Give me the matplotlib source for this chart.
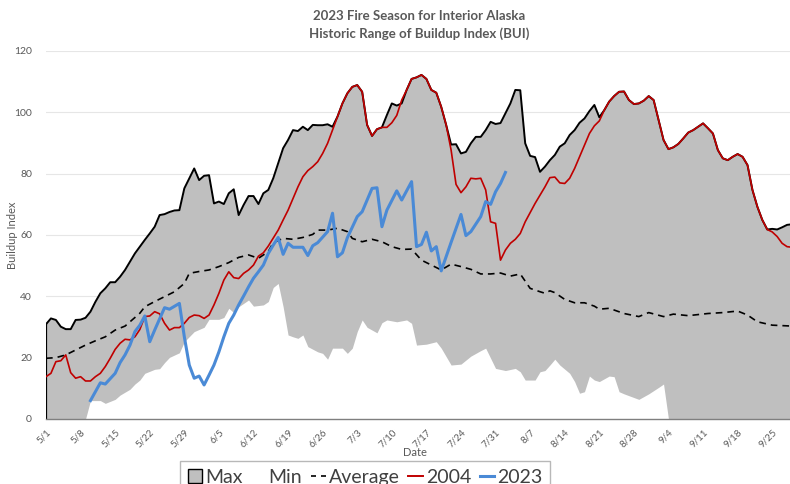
import matplotlib
matplotlib.use("Agg")
import matplotlib.pyplot as plt
from matplotlib.patches import Patch
from matplotlib.lines import Line2D
import datetime as dt

plt.rcParams['font.family'] = ['Lato', 'DejaVu Sans']

# ---------------- data (days counted from May 1, 2023) ----------------
season_start = dt.datetime(2023, 5, 1)

max_day = [0, 1, 2, 3, 4, 5, 6, 7, 8, 9, 10, 11, 12, 13, 14, 15, 16, 17, 18, 19,
           20, 21, 22, 23, 24, 25, 26, 27, 28, 30, 31, 32, 33, 34, 35, 36, 37, 38, 39, 40,
           41, 42, 43, 44, 45, 46, 47, 48, 49, 50, 51, 52, 53, 54, 55, 56, 57, 58, 59, 60,
           61, 62, 63, 64, 65, 66, 67, 68, 69, 70, 71, 72, 73, 74, 75, 76, 77, 78, 79, 80,
           81, 82, 83, 84, 85, 86, 87, 88, 89, 90, 91, 92, 93, 94, 95, 96, 97, 98, 99, 100,
           101, 102, 103, 104, 105, 106, 107, 108, 109, 110, 111, 112, 113, 114, 115, 116, 117, 118, 119, 120,
           121, 122, 123, 124, 125, 126, 127, 128, 129, 130, 131, 132, 133, 134, 135, 136, 137, 138, 139, 140,
           141, 142, 143, 144, 145, 146, 147, 148, 149, 150, 151]
max_vals = [30.9, 32.8, 32.3, 30.1, 29.3, 29.3, 32.3, 32.4, 33.0, 35.0, 38.2, 41.0, 42.6, 44.6, 44.6, 46.4, 48.6, 51.3, 54.0, 56.2,
            58.4, 60.5, 62.7, 66.5, 66.8, 67.5, 68.0, 68.1, 75.2, 81.7, 77.9, 79.3, 79.5, 70.3, 70.9, 70.1, 73.6, 74.9, 66.5, 69.8,
            72.7, 72.7, 70.1, 73.6, 74.7, 78.5, 83.4, 88.3, 91.0, 94.2, 93.9, 95.3, 94.2, 95.9, 95.8, 95.8, 96.1, 95.3, 98.6, 102.9,
            106.2, 108.3, 108.9, 106.7, 95.9, 92.3, 94.5, 95.1, 99.1, 102.9, 102.2, 102.9, 107.3, 110.9, 111.4, 112.2, 110.9, 107.3, 106.4, 101.8,
            95.9, 89.5, 89.6, 86.6, 87.1, 89.9, 92.0, 92.0, 94.2, 96.9, 96.2, 96.5, 99.7, 102.9, 107.3, 107.2, 89.9, 85.8, 85.4, 80.6,
            82.3, 84.4, 86.1, 88.8, 89.9, 92.6, 94.2, 96.6, 98.0, 100.4, 102.4, 98.4, 100.7, 103.5, 105.3, 106.7, 106.8, 104.0, 102.7, 102.9,
            103.8, 105.3, 104.0, 97.5, 91.0, 88.0, 88.6, 89.7, 91.5, 93.4, 94.2, 95.3, 96.4, 94.8, 93.1, 87.7, 85.0, 84.4, 85.5, 86.4,
            85.5, 82.8, 74.7, 69.2, 64.9, 61.8, 62.0, 61.8, 62.5, 63.3, 63.5]

min_day = [0, 8, 9, 11, 12, 14, 15, 17, 18, 19, 20, 22, 23, 24, 25, 27, 28, 30, 32, 33,
           35, 36, 37, 38, 39, 41, 42, 44, 45, 46, 47, 48, 49, 50, 51, 52, 53, 55, 56, 57,
           58, 60, 61, 62, 63, 64, 65, 67, 68, 69, 71, 73, 74, 75, 77, 79, 80, 82, 84, 86,
           88, 89, 91, 93, 95, 96, 97, 99, 100, 101, 102, 103, 104, 106, 107, 108, 109, 110, 111, 112,
           114, 115, 116, 117, 120, 122, 124, 125, 126, 151]
min_vals = [0.0, 0.0, 6.0, 6.0, 5.1, 6.4, 7.8, 9.7, 11.4, 12.7, 14.9, 16.2, 16.4, 18.4, 20.1, 21.6, 25.2, 28.5, 29.9, 32.5,
            32.5, 33.1, 36.1, 34.7, 36.6, 38.8, 36.8, 37.2, 38.3, 42.9, 44.2, 36.6, 27.4, 26.8, 26.3, 27.4, 23.6, 21.9, 21.4, 19.5,
            23.1, 23.1, 21.4, 23.1, 28.5, 32.3, 29.9, 28.1, 31.4, 32.3, 31.7, 32.3, 31.2, 24.1, 24.4, 25.2, 23.1, 17.6, 17.9, 20.5,
            22.3, 23.1, 16.5, 15.8, 16.5, 15.4, 12.7, 12.7, 15.4, 15.8, 17.6, 19.5, 17.6, 14.9, 12.2, 8.4, 8.9, 14.0, 12.7, 12.2,
            14.0, 13.8, 8.9, 8.2, 6.4, 8.2, 10.3, 11.4, 0.0, 0.0]

avg_day = [0, 2, 4, 6, 8, 10, 12, 14, 16, 17, 19, 20, 22, 24, 26, 28, 29, 31, 33, 35,
           37, 39, 41, 43, 45, 46, 48, 50, 52, 54, 55, 57, 59, 61, 62, 64, 66, 68, 70, 72,
           74, 76, 78, 80, 82, 84, 86, 88, 90, 92, 94, 96, 98, 100, 101, 102, 103, 105, 107, 109,
           111, 112, 114, 117, 120, 122, 125, 127, 130, 134, 137, 140, 142, 144, 147, 151]
avg_vals = [19.8, 20.0, 20.9, 22.5, 24.1, 25.5, 26.8, 29.0, 30.3, 31.7, 34.5, 36.6, 38.3, 39.9, 41.5, 44.2, 47.5, 48.1, 48.6, 49.7,
            51.0, 52.7, 53.5, 52.4, 54.6, 57.5, 58.9, 58.6, 59.2, 60.2, 61.6, 61.6, 62.2, 61.1, 58.9, 57.8, 58.6, 57.8, 56.2, 55.3,
            55.4, 51.8, 50.2, 48.6, 50.5, 49.7, 48.8, 47.3, 47.3, 47.6, 46.6, 47.3, 42.6, 41.5, 41.0, 41.8, 41.2, 39.0, 37.9, 37.9,
            36.8, 35.8, 36.1, 34.4, 33.4, 34.7, 33.4, 34.2, 33.7, 34.4, 34.7, 35.2, 33.9, 31.7, 30.6, 30.3]

y2004_day = [0, 1, 2, 3, 4, 5, 6, 7, 8, 9, 10, 11, 12, 13, 14, 15, 16, 17, 18, 19,
             20, 21, 22, 23, 24, 25, 26, 27, 28, 29, 30, 31, 32, 33, 34, 35, 36, 37, 38, 39,
             40, 41, 42, 43, 44, 45, 46, 47, 48, 49, 50, 51, 52, 53, 54, 55, 56, 57, 58, 59,
             60, 61, 62, 63, 64, 65, 66, 67, 68, 69, 70, 71, 72, 73, 74, 75, 76, 77, 78, 79,
             80, 81, 82, 83, 84, 85, 86, 87, 88, 89, 90, 91, 92, 93, 94, 95, 96, 97, 99, 100,
             101, 102, 103, 104, 105, 106, 107, 108, 109, 110, 111, 112, 113, 114, 115, 116, 117, 118, 119, 120,
             121, 122, 123, 124, 125, 126, 127, 128, 129, 130, 131, 132, 133, 134, 135, 136, 137, 138, 139, 140,
             141, 142, 143, 144, 145, 146, 147, 148, 149, 150, 151]
y2004_vals = [13.8, 14.9, 18.7, 19.0, 20.9, 15.1, 13.3, 13.8, 12.4, 12.4, 13.8, 14.9, 17.1, 19.8, 22.7, 24.7, 26.0, 25.8, 26.8, 29.2,
              33.4, 33.6, 35.0, 34.3, 31.2, 29.0, 29.8, 29.8, 31.2, 33.1, 33.9, 33.7, 32.8, 33.9, 37.2, 41.0, 45.3, 48.0, 46.1, 45.8,
              47.5, 48.6, 50.2, 53.1, 54.2, 56.4, 59.0, 61.6, 64.9, 68.1, 71.9, 75.7, 79.0, 81.0, 82.3, 83.9, 86.6, 89.9, 94.2, 98.6,
              102.9, 106.2, 108.3, 108.9, 106.7, 95.9, 92.3, 94.5, 95.1, 95.1, 96.6, 99.0, 104.0, 107.3, 110.9, 111.4, 112.2, 110.9, 107.3, 106.4,
              101.8, 95.9, 87.7, 76.5, 73.8, 75.7, 78.5, 78.3, 78.5, 74.7, 64.3, 63.8, 51.8, 55.1, 57.3, 58.6, 60.5, 64.3, 70.3, 73.0,
              75.7, 78.7, 78.9, 77.0, 76.8, 78.5, 81.7, 85.5, 89.3, 93.1, 95.6, 97.2, 100.7, 103.5, 105.3, 106.7, 106.8, 104.0, 102.7, 102.9,
              103.8, 105.3, 104.0, 97.5, 91.0, 88.0, 88.6, 89.7, 91.5, 93.4, 94.2, 95.3, 96.4, 94.8, 93.1, 87.7, 85.0, 84.4, 85.5, 86.4,
              85.5, 82.8, 74.7, 69.2, 64.9, 61.8, 61.0, 59.5, 57.3, 56.2, 56.0]

y2023_day = [9, 11, 12, 14, 15, 16, 17, 18, 19, 20, 21, 22, 24, 25, 27, 28, 29, 30, 31, 32,
             33, 34, 35, 36, 37, 38, 39, 40, 41, 42, 43, 44, 45, 46, 47, 48, 49, 50, 52, 53,
             54, 55, 57, 58, 59, 60, 61, 63, 64, 66, 67, 68, 69, 71, 72, 74, 75, 76, 77, 78,
             79, 80, 82, 84, 85, 86, 88, 89, 90, 91, 92, 93]
y2023_vals = [6.0, 11.8, 11.4, 14.9, 18.4, 20.9, 24.1, 28.5, 30.6, 33.6, 25.2, 29.0, 36.3, 35.8, 37.7, 26.8, 17.6, 13.3, 14.0, 11.1,
              14.3, 17.6, 21.9, 26.8, 31.2, 33.9, 37.2, 40.1, 43.1, 45.9, 48.0, 50.2, 54.0, 56.7, 59.2, 53.7, 57.3, 56.0, 56.0, 53.3,
              56.5, 57.5, 61.1, 67.1, 52.9, 54.2, 59.1, 66.0, 67.6, 75.2, 75.4, 62.7, 68.1, 74.4, 71.4, 77.4, 56.2, 56.9, 60.9, 54.8,
              56.2, 48.3, 57.6, 66.7, 59.8, 61.1, 66.0, 70.9, 70.0, 74.1, 76.8, 80.4]

tick_days = list(range(0, 148, 7))
y_ticks = [0, 20, 40, 60, 80, 100, 120]

title = "2023 Fire Season for Interior Alaska\nHistoric Range of Buildup Index (BUI)"
series_names = ["Max", "Min", "Average", "2004", "2023"]


def to_dates(days):
    return [season_start + dt.timedelta(days=d) for d in days]


# ---------------- figure ----------------
W, H = 790, 484
fig = plt.figure(figsize=(W / 100, H / 100), dpi=100)
ax = fig.add_axes([46 / W, 1 - 419 / H, (790 - 46) / W, (419 - 51) / H])

grey = '#bfbfbf'
text_grey = '#595959'

xm = to_dates(max_day)
xn = to_dates(min_day)

ax.fill_between(xm, max_vals, 0, color=grey, lw=0, zorder=1)
ax.fill_between(xn, min_vals, 0, color='white', lw=0, zorder=2)
ax.plot(xm, max_vals, color='black', lw=1.4, zorder=3)
ax.plot([xm[0], xm[0]], [0, max_vals[0]], color='black', lw=1.6, zorder=3)
ax.plot(to_dates(avg_day), avg_vals, color='black', lw=1.2, dashes=(4, 3), zorder=4)
ax.plot(to_dates(y2004_day), y2004_vals, color='#c00000', lw=1.2, zorder=5)
ax.plot(to_dates(y2023_day), y2023_vals, color='#4a8ad6', lw=2.2, zorder=6)

ax.set_xlim(season_start, season_start + dt.timedelta(days=150.6))
ax.set_ylim(0, 120)
ax.set_yticks(y_ticks)
ax.grid(axis='y', color='#e6e6e6', lw=0.8, zorder=0)
ax.set_axisbelow(True)

tick_dates = to_dates(tick_days)
ax.set_xticks(tick_dates)
ax.set_xticklabels([f"{d.month}/{d.day}" for d in tick_dates], rotation=45,
                   ha='right', va='top', rotation_mode='anchor',
                   fontsize=7, color=text_grey)
ax.tick_params(axis='x', length=0, pad=6)
ax.tick_params(axis='y', length=0, pad=10, labelsize=7.5, labelcolor=text_grey)

for s in ['top', 'right', 'left']:
    ax.spines[s].set_visible(False)
ax.spines['bottom'].set_color('#7f7f7f')
ax.spines['bottom'].set_linewidth(1.0)
ax.spines['bottom'].set_zorder(7)

fig.text(12 / W, 1 - 235 / H, "Buildup Index", fontsize=8, color=text_grey,
         ha='center', va='center', rotation=90)
fig.text(415 / W, 1 - 452 / H, "Date", fontsize=8, color=text_grey,
         ha='center', va='center')
fig.text(419 / W, 1 - 25 / H, title, fontsize=9.5, fontweight='bold',
         color=text_grey, ha='center', va='center', linespacing=1.5)

handles = [Patch(facecolor=grey, edgecolor='black', lw=1.0),
           Patch(facecolor='white', edgecolor='none'),
           Line2D([], [], color='black', lw=1.2, dashes=(3, 3)),
           Line2D([], [], color='#c00000', lw=1.4),
           Line2D([], [], color='#4a8ad6', lw=2.2)]
leg = fig.legend(handles, series_names, loc='upper center', ncol=5,
                 bbox_to_anchor=(365 / W, 1 - 461 / H), borderaxespad=0,
                 fontsize=14, frameon=True, fancybox=False, edgecolor='#a6a6a6',
                 handlelength=0.75, handleheight=0.68, handletextpad=0.15,
                 columnspacing=0.45, borderpad=0.4, labelcolor='#404040')
leg.get_frame().set_linewidth(1.0)

fig.savefig("out.png", dpi=100)
